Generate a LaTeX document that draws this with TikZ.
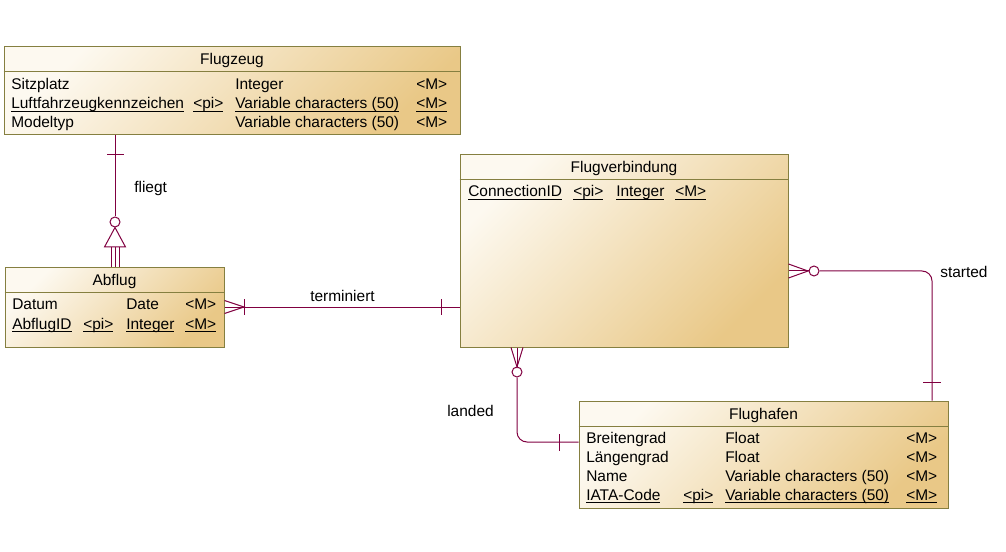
\documentclass[tikz,border=0pt]{standalone}
\usepackage{fontspec}
\setmainfont{Liberation Sans}
\usetikzlibrary{fit}
\definecolor{efill1}{HTML}{FDF9F0}
\definecolor{efill2}{HTML}{E9C887}
\definecolor{eborder}{HTML}{857F40}
\definecolor{relc}{HTML}{800040}
\newcommand\uln[1]{\sbox0{#1}\rlap{\rule[-1.9pt]{\wd0}{0.7pt}}\usebox0}
\begin{document}
\begin{tikzpicture}[x=0.75pt,y=-0.75pt,
  font=\fontsize{11.6}{13}\selectfont,
  entity/.style={inner sep=0, draw=eborder, line width=0.75pt,
    top color=efill1, bottom color=efill2, shading angle=45},
  hdr/.style={draw=eborder, line width=0.75pt},
  txt/.style={anchor=base west, inner sep=0},
  ttl/.style={anchor=base, inner sep=0},
  rel/.style={draw=relc, line width=0.75pt},
  relcirc/.style={circle, draw=relc, fill=white, line width=0.75pt, minimum size=7.5pt, inner sep=0},
]
\useasboundingbox (0,0) rectangle (1006,552);

% ---------- entities ----------
\node[entity, fit={(4,47) (460,135)}] (fz) {};
\node[entity, fit={(5,268) (224,347)}] (ab) {};
\node[entity, fit={(460,155) (788,347)}] (fv) {};
\node[entity, fit={(579,401) (948,508)}] (fh) {};

\draw[hdr] (fz.west |- 0,72) -- (fz.east |- 0,72);
\draw[hdr] (ab.west |- 0,292) -- (ab.east |- 0,292);
\draw[hdr] (fv.west |- 0,180) -- (fv.east |- 0,180);
\draw[hdr] (fh.west |- 0,426) -- (fh.east |- 0,426);

% titles
\node[ttl] (fzt) at (232,65) {Flugzeug};
\node[ttl] (abt) at (114.5,286) {Abflug};
\node[ttl] (fvt) at (624,173) {Flugverbindung};
\node[ttl] (fht) at (763.5,419) {Flughafen};

% Flugzeug attributes
\node[txt] (fz1a) at (11,90) {Sitzplatz};
\node[txt] (fz1c) at (235,90) {Integer};
\node[txt] (fz1d) at (416,90) {<M>};
\node[txt] (fz2a) at (11,109) {\uln{Luftfahrzeugkennzeichen}};
\node[txt] (fz2b) at (193,109) {\uln{<pi>}};
\node[txt] (fz2c) at (235,109) {\uln{Variable characters (50)}};
\node[txt] (fz2d) at (416,109) {\uln{<M>}};
\node[txt] (fz3a) at (11,128) {Modeltyp};
\node[txt] (fz3c) at (235,128) {Variable characters (50)};
\node[txt] (fz3d) at (416,128) {<M>};

% Abflug attributes
\node[txt] (ab1a) at (12,310) {Datum};
\node[txt] (ab1c) at (126,310) {Date};
\node[txt] (ab1d) at (185,310) {<M>};
\node[txt] (ab2a) at (12,329) {\uln{AbflugID}};
\node[txt] (ab2b) at (83,329) {\uln{<pi>}};
\node[txt] (ab2c) at (126,329) {\uln{Integer}};
\node[txt] (ab2d) at (185,329) {\uln{<M>}};

% Flugverbindung attributes
\node[txt] (fv1a) at (468,197) {\uln{ConnectionID}};
\node[txt] (fv1b) at (573,197) {\uln{<pi>}};
\node[txt] (fv1c) at (616,197) {\uln{Integer}};
\node[txt] (fv1d) at (675,197) {\uln{<M>}};

% Flughafen attributes
\node[txt] (fh1a) at (586,443) {Breitengrad};
\node[txt] (fh1c) at (725,443) {Float};
\node[txt] (fh1d) at (906,443) {<M>};
\node[txt] (fh2a) at (586,462) {Längengrad};
\node[txt] (fh2c) at (725,462) {Float};
\node[txt] (fh2d) at (906,462) {<M>};
\node[txt] (fh3a) at (586,481) {Name};
\node[txt] (fh3c) at (725,481) {Variable characters (50)};
\node[txt] (fh3d) at (906,481) {<M>};
\node[txt] (fh4a) at (586,500) {\uln{IATA-Code}};
\node[txt] (fh4b) at (683,500) {\uln{<pi>}};
\node[txt] (fh4c) at (725,500) {\uln{Variable characters (50)}};
\node[txt] (fh4d) at (906,500) {\uln{<M>}};

% ---------- relationships ----------
% fliegt (Flugzeug -- Abflug)
\node[relcirc] (c1) at (115,222) {};
\draw[rel] (fz.south -| 115,0) -- (c1.north);
\draw[rel] (107,155) -- (124,155);
\draw[rel] (c1.south) -- (104.5,247) -- (125.5,247) -- cycle;
\draw[rel] (111,247) -- (ab.north -| 111,0);
\draw[rel] (115,247) -- (ab.north -| 115,0);
\draw[rel] (119,247) -- (ab.north -| 119,0);
\node[txt] (lfl) at (134,193) {fliegt};

% terminiert (Abflug -- Flugverbindung)
\draw[rel] (ab.east |- 0,307) -- (fv.west |- 0,307);
\draw[rel] (ab.east |- 0,300.5) -- (244,307) -- (ab.east |- 0,313.5);
\draw[rel] (244,299) -- (244,315);
\draw[rel] (441,299) -- (441,315);
\node[txt] (lte) at (310,301) {terminiert};

% started (Flugverbindung -- Flughafen)
\node[relcirc] (c2) at (814,271) {};
\draw[rel] (fv.east |- 0,264) -- (808,271) -- (fv.east |- 0,278);
\draw[rel] (fv.east |- 0,271) -- (c2.west);
\draw[rel, rounded corners=7.5pt] (c2.east) -- (932,271) -- (fh.north -| 932,0);
\draw[rel] (923,382) -- (941,382);
\node[txt] (lst) at (940,277) {started};

% landed (Flugverbindung -- Flughafen)
\node[relcirc] (c3) at (517,372) {};
\draw[rel] (fv.south -| 511,0) -- (517,367) -- (fv.south -| 523,0);
\draw[rel] (fv.south -| 517,0) -- (c3.north);
\draw[rel, rounded corners=7.5pt] (c3.south) -- (517,442) -- (fh.west |- 0,442);
\draw[rel] (559,434) -- (559,451);
\node[txt] (lla) at (447,416) {landed};
\end{tikzpicture}
\end{document}
